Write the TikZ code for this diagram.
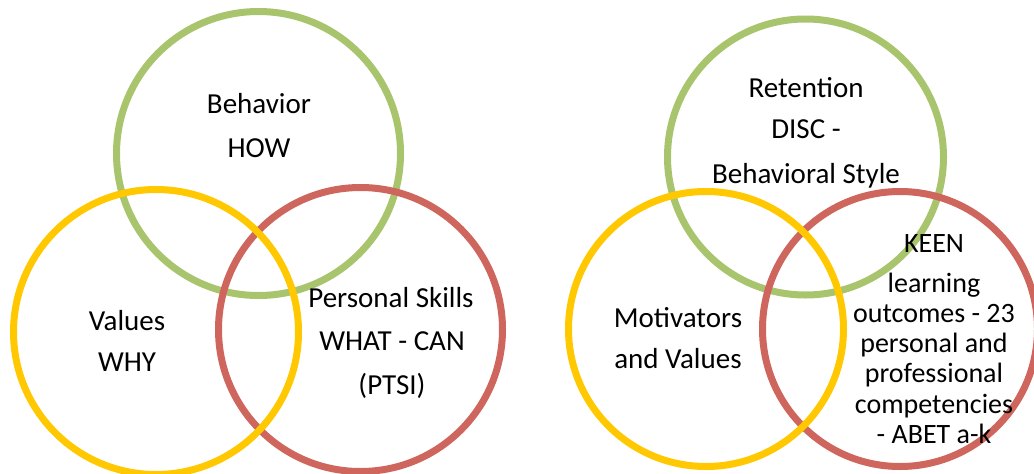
\documentclass[tikz,border=0pt]{standalone}
\usepackage{fontspec}
\setmainfont{Carlito}
\definecolor{ringgreen}{RGB}{168,196,108}
\definecolor{ringgold}{RGB}{255,200,0}
\definecolor{ringred}{RGB}{206,102,94}
\tikzset{
  ring/.style={line width=7pt},
  lbl/.style={anchor=base, inner sep=0pt, font=\fontsize{29}{35}\selectfont},
  lbls/.style={anchor=base, inner sep=0pt, font=\fontsize{28}{30}\selectfont},
}
\begin{document}
\begin{tikzpicture}[x=1pt,y=-1pt]
\useasboundingbox (0,0) rectangle (1034,474);
\begin{scope}
\clip (0,0) rectangle (1034,474);
% left set of circles
\draw[ring, ringgreen] (258.5,153.5) circle[radius=142];
\draw[ring, ringred]   (360.5,329.5) circle[radius=142];
\draw[ring, ringgold]  (156,332) circle[radius=142.5];
% right set of circles
\draw[ring, ringgreen] (805.5,157) circle[radius=138];
\draw[ring, ringred]   (900,329) circle[radius=137.5];
\draw[ring, ringgold]  (706,329) circle[radius=137.5];
\end{scope}

% left labels
\node[lbl] (beh)  at (259,113) {Behavior};
\node[lbl] (how)  at (259,157) {HOW};
\node[lbl] (val)  at (127,330) {Values};
\node[lbl] (why)  at (127,371) {WHY};
\node[lbl] (ps)   at (391,307) {Personal Skills};
\node[lbl] (wc)   at (392,350) {WHAT - CAN};
\node[lbl] (ptsi) at (392,394) {(PTSI)};

% right labels
\node[lbl] (ret)  at (806,97)  {Retention};
\node[lbl] (disc) at (806,138) {DISC -};
\node[lbl] (bsty) at (806,183) {Behavioral Style};
\node[lbl] (mot)  at (678,327) {Motivators};
\node[lbl] (andv) at (678,368) {and Values};
\node[lbls] (keen) at (934,252) {KEEN};
\node[lbls] (lrn)  at (934,292) {learning};
\node[lbls] (outc) at (934,322) {outcomes - 23};
\node[lbls] (pers) at (934,352) {personal and};
\node[lbls] (prof) at (934,382) {professional};
\node[lbls] (comp) at (934,413) {competencies};
\node[lbls] (abet) at (934,443) {- ABET a-k};
\end{tikzpicture}
\end{document}
